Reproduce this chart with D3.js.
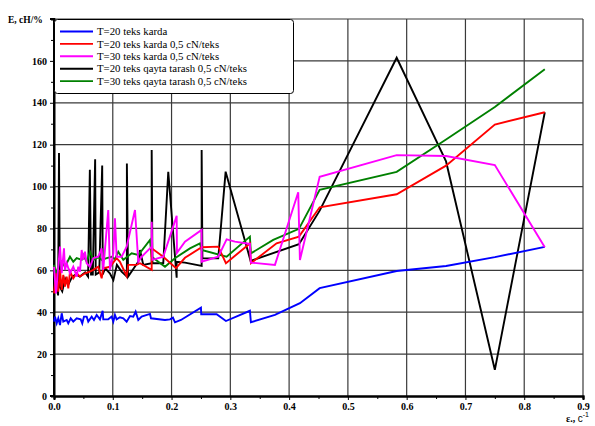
<!DOCTYPE html>
<html>
<head>
<meta charset="utf-8">
<script src="https://cdn.jsdelivr.net/npm/d3@7"></script>
<style>
  body { margin: 0; background: #fff; }
  svg { display: block; }
</style>
</head>
<body>
<div id="chart"></div>
<script>
// Tick values
const xTicks = [0, 0.1, 0.2, 0.3, 0.4, 0.5, 0.6, 0.7, 0.8, 0.9];
const yTicks = [0, 20, 40, 60, 80, 100, 120, 140, 160];

// Legend labels
const seriesNames = [
  "T=20 teks karda",
  "T=20 teks karda 0,5 cN/teks",
  "T=30 teks karda 0,5 cN/teks",
  "T=20 teks qayta tarash 0,5 cN/teks",
  "T=30 teks qayta tarash 0,5 cN/teks"
];
const seriesColors = ["#0000ff", "#ff0000", "#ff00ff", "#000000", "#008000"];

// Series values [x, E]
const blue20 = [
  [0, 35.5], [0.0017, 37.9], [0.0046, 34.7], [0.0073, 37.1], [0.0102, 33.9], [0.0131, 39.5],
  [0.0158, 35.5], [0.0216, 36.3], [0.0243, 34.7], [0.0284, 37.1], [0.0328, 35.5], [0.0386, 37.1],
  [0.0454, 36.6], [0.0481, 34.7], [0.051, 37.9], [0.0556, 37.9], [0.0583, 35.5], [0.0641, 37.9],
  [0.068, 36.3], [0.0726, 38.7], [0.0782, 36.6], [0.0828, 40.7], [0.0838, 36.6], [0.0923, 36.6],
  [0.0981, 37.9], [0.1009, 35.5], [0.1037, 38.7], [0.1066, 36.6], [0.1122, 37.6], [0.1179, 37.1],
  [0.1236, 35.5], [0.1293, 38.2], [0.1349, 37.9], [0.1389, 40.3], [0.1434, 36.3], [0.1491, 37.9],
  [0.1633, 39.2], [0.165, 37.1], [0.1888, 36.3], [0.1973, 36.6], [0.2024, 37.4], [0.2058, 35.2],
  [0.216, 36.3], [0.25, 42.2], [0.2505, 39.0], [0.2767, 39.0], [0.2925, 35.8], [0.3333, 40.7],
  [0.335, 35.2], [0.3759, 38.7], [0.4184, 44.3], [0.452, 51.5], [0.583, 59.7], [0.667, 62.1],
  [0.75, 66.3], [0.835, 71.2]
];

const red20 = [
  [0, 49], [0.0034, 58.6], [0.0073, 49.8], [0.0102, 60.2], [0.0131, 50.6], [0.0158, 57.8],
  [0.0187, 52.2], [0.0216, 57], [0.0243, 51.4], [0.0272, 59.4], [0.0328, 56.2], [0.0386, 58.6],
  [0.0442, 57], [0.0527, 58.6], [0.0612, 59.4], [0.0668, 60.2], [0.0753, 61.7], [0.0811, 56.2],
  [0.0838, 61], [0.0952, 61.7], [0.1066, 65.8], [0.1122, 64.1], [0.1236, 57.3], [0.1264, 62.6],
  [0.1406, 62.6], [0.1463, 63.4], [0.1662, 60.2], [0.1662, 70.5], [0.1859, 66.5], [0.2075, 61],
  [0.2228, 66], [0.2512, 71], [0.2794, 71.3], [0.2925, 63.4], [0.3333, 72.8], [0.335, 63.4],
  [0.3787, 72.9], [0.4167, 76.1], [0.452, 90.1], [0.583, 96.3], [0.667, 110], [0.75, 129.6],
  [0.835, 135.5]
];

const magenta30 = [
  [0, 61.7], [0.0034, 49], [0.0102, 71.3], [0.0131, 58.6], [0.017, 70.5], [0.0187, 60.2],
  [0.0216, 63.4], [0.0272, 58.6], [0.0328, 61.7], [0.0386, 57], [0.0413, 61.7], [0.0442, 59.4],
  [0.0471, 69.7], [0.0498, 65], [0.0527, 68.9], [0.0556, 63.4], [0.0612, 61.7], [0.0668, 65.8],
  [0.0753, 66.5], [0.0811, 70.5], [0.0838, 60.2], [0.0923, 88.8], [0.0952, 60.2], [0.1009, 68.1],
  [0.1037, 84.9], [0.1066, 66.5], [0.1151, 66.5], [0.1236, 71.3], [0.1378, 88.8], [0.1434, 64.1],
  [0.1491, 66.5], [0.1662, 71.3], [0.1662, 83.2], [0.1675, 65], [0.1859, 66.5], [0.2087, 86],
  [0.2092, 68.4], [0.2228, 73.7], [0.2512, 79.3], [0.2512, 64.1], [0.2794, 66.5], [0.2937, 74.8],
  [0.3078, 73.7], [0.3333, 72.6], [0.335, 63.7], [0.3759, 62.6], [0.4155, 97.3], [0.4184, 64.9],
  [0.452, 104.7], [0.583, 115], [0.667, 114.6], [0.75, 110.3], [0.835, 71]
];

const black20 = [
  [0, 50], [0.003, 55], [0.007, 48], [0.0085, 116], [0.010, 52], [0.014, 50], [0.019, 56],
  [0.024, 53], [0.031, 57], [0.037, 58], [0.044, 57], [0.053, 59], [0.058, 57], [0.061, 108],
  [0.063, 58], [0.066, 58], [0.070, 113], [0.071, 58], [0.077, 59], [0.082, 110], [0.083, 58],
  [0.087, 61], [0.095, 58.6], [0.101, 55.4], [0.107, 62.6], [0.115, 59.4], [0.124, 57],
  [0.124, 111], [0.126, 57], [0.1434, 64.1], [0.1463, 69.7], [0.1519, 62.6], [0.1662, 63.4],
  [0.1662, 117.5], [0.1675, 63.4], [0.1859, 63.4], [0.1944, 107], [0.2087, 56.5], [0.2087, 64.1],
  [0.2228, 63.7], [0.2512, 62.1], [0.2512, 117.5], [0.2525, 65.7], [0.2794, 65.7], [0.292, 107.1],
  [0.3345, 64.5], [0.4167, 72.5], [0.452, 88.5], [0.583, 161.5], [0.667, 112], [0.75, 12.5],
  [0.835, 135.5]
];

const green30 = [
  [0, 62.6], [0.0034, 58], [0.0102, 65], [0.0187, 61.7], [0.0272, 66.5], [0.0328, 64.1],
  [0.0386, 65.8], [0.0471, 65], [0.0498, 67.3], [0.0556, 64.1], [0.0612, 68.9], [0.0668, 65],
  [0.0753, 66.2], [0.0811, 65], [0.0896, 65.8], [0.0981, 66.5], [0.1037, 65.3], [0.1094, 68.9],
  [0.1179, 65], [0.1321, 68.1], [0.1434, 67.3], [0.1633, 74.5], [0.1662, 66.5], [0.1888, 61.7],
  [0.2058, 65.8], [0.2313, 70.5], [0.2483, 72.9], [0.2512, 69.7], [0.2937, 66.5], [0.3333, 76.1],
  [0.335, 68.1], [0.373, 74.5], [0.4167, 79.8], [0.452, 98.4], [0.583, 107], [0.667, 122.5],
  [0.75, 138], [0.835, 156]
];

const width = 595, height = 426;
const margin = { top: 19, right: 12, bottom: 30, left: 54 };

const svg = d3.select("#chart").append("svg")
  .attr("width", width)
  .attr("height", height)
  .style("font-family", "'Liberation Serif', 'Times New Roman', serif");

const x = d3.scaleLinear().domain([0, 0.9]).range([margin.left, width - margin.right]);
const y = d3.scaleLinear().domain([0, 180]).range([height - margin.bottom, margin.top]);

// Grid
const grid = svg.append("g").attr("stroke", "#3a3a3a").attr("stroke-width", 1.2);
grid.selectAll("line.v")
  .data(xTicks.slice(1))
  .join("line")
  .attr("x1", d => x(d)).attr("x2", d => x(d))
  .attr("y1", y(0)).attr("y2", y(180));
grid.selectAll("line.h")
  .data(yTicks.slice(1).concat([180]))
  .join("line")
  .attr("y1", d => y(d)).attr("y2", d => y(d))
  .attr("x1", x(0)).attr("x2", x(0.9));

// Axes
const xAxis = svg.append("g")
  .attr("transform", `translate(0,${y(0)})`)
  .call(d3.axisBottom(x).tickValues(xTicks).tickFormat(d3.format(".1f")).tickSize(4).tickPadding(3));
const xMinor = svg.append("g")
  .attr("transform", `translate(0,${y(0)})`)
  .call(d3.axisBottom(x).tickValues(d3.range(0.05, 0.9, 0.1)).tickFormat("").tickSize(3));
const yAxis = svg.append("g")
  .attr("transform", `translate(${x(0)},0)`)
  .call(d3.axisLeft(y).tickValues(yTicks).tickSize(4).tickPadding(3));
const yMinor = svg.append("g")
  .attr("transform", `translate(${x(0)},0)`)
  .call(d3.axisLeft(y).tickValues(d3.range(10, 180, 20)).tickFormat("").tickSize(3));

[xAxis, xMinor, yAxis, yMinor].forEach(g => {
  g.select(".domain").attr("stroke", "#000").attr("stroke-width", 2);
  g.selectAll(".tick line").attr("stroke", "#000").attr("stroke-width", 1);
  g.selectAll("text")
    .attr("font-family", "'Liberation Serif', serif")
    .attr("font-weight", "bold")
    .attr("font-size", 10)
    .attr("fill", "#000");
});
yAxis.select(".domain").attr("d", `M-4,${y(0)}H0V${y(180)}H-4`);

// Series lines
const line = d3.line().x(d => x(d[0])).y(d => y(d[1]));
const drawOrder = [
  [black20, seriesColors[3]],
  [green30, seriesColors[4]],
  [red20, seriesColors[1]],
  [blue20, seriesColors[0]],
  [magenta30, seriesColors[2]]
];
svg.append("g")
  .selectAll("path")
  .data(drawOrder)
  .join("path")
  .attr("d", d => line(d[0]))
  .attr("fill", "none")
  .attr("stroke", d => d[1])
  .attr("stroke-width", 1.9)
  .attr("stroke-linejoin", "miter");

// Legend
const legend = svg.append("g").attr("transform", `translate(${x(0)},${y(180)})`);
legend.append("rect")
  .attr("x", 0.5).attr("y", 0.5)
  .attr("width", 239).attr("height", 74)
  .attr("rx", 3)
  .attr("fill", "#fff")
  .attr("stroke", "#000")
  .attr("stroke-width", 1);
const rows = legend.selectAll("g.row")
  .data(seriesNames)
  .join("g")
  .attr("transform", (d, i) => `translate(0,${12.5 + i * 12.4})`);
rows.append("line")
  .attr("x1", 6).attr("x2", 39)
  .attr("stroke", (d, i) => seriesColors[i])
  .attr("stroke-width", 1.9);
rows.append("text")
  .attr("x", 43).attr("y", 0)
  .attr("dy", "0.35em")
  .attr("font-size", 10.8)
  .attr("fill", "#000")
  .text(d => d);

// Axis titles
svg.append("text")
  .attr("x", 8).attr("y", 23)
  .attr("font-size", 9.5)
  .attr("font-weight", "bold")
  .text("E, cH/%");

const xt = svg.append("text")
  .attr("x", 566).attr("y", 422)
  .attr("font-size", 10);
xt.append("tspan").attr("font-weight", "bold").text("ε., ");
xt.append("tspan").attr("font-family", "'Liberation Sans', sans-serif").attr("font-size", 10).text("с");
xt.append("tspan").attr("font-family", "'Liberation Sans', sans-serif").attr("font-size", 7).attr("dy", -5).text("-1");
</script>
</body>
</html>
